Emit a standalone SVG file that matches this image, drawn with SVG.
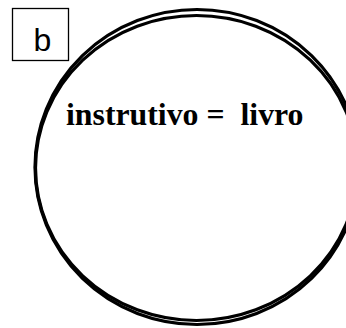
<svg xmlns="http://www.w3.org/2000/svg" width="346" height="328" viewBox="0 0 346 328">
<style>
.ring{fill:none;stroke:#000;stroke-width:3.2}
.box{fill:#fff;stroke:#000;stroke-width:1.3}
.lbl{font-family:"Liberation Sans",Arial,sans-serif;font-size:32px;fill:#000}
.txt{font-family:"Liberation Serif","Times New Roman",serif;font-weight:bold;font-size:31.8px;fill:#000}
</style>
<rect width="346" height="328" fill="#fff"/>
<g id="circle">
<ellipse class="ring" cx="197" cy="167" rx="162" ry="157.5"/>
<ellipse class="ring" cx="196.5" cy="168" rx="161" ry="152.5"/>
</g>
<g id="label-b">
<rect class="box" x="12.5" y="8.5" width="56" height="52"/>
<text class="lbl" x="42.5" y="51" text-anchor="middle">b</text>
</g>
<g id="statement">
<text class="txt" x="66" y="125" xml:space="preserve">instrutivo =  livro</text>
</g>
</svg>
